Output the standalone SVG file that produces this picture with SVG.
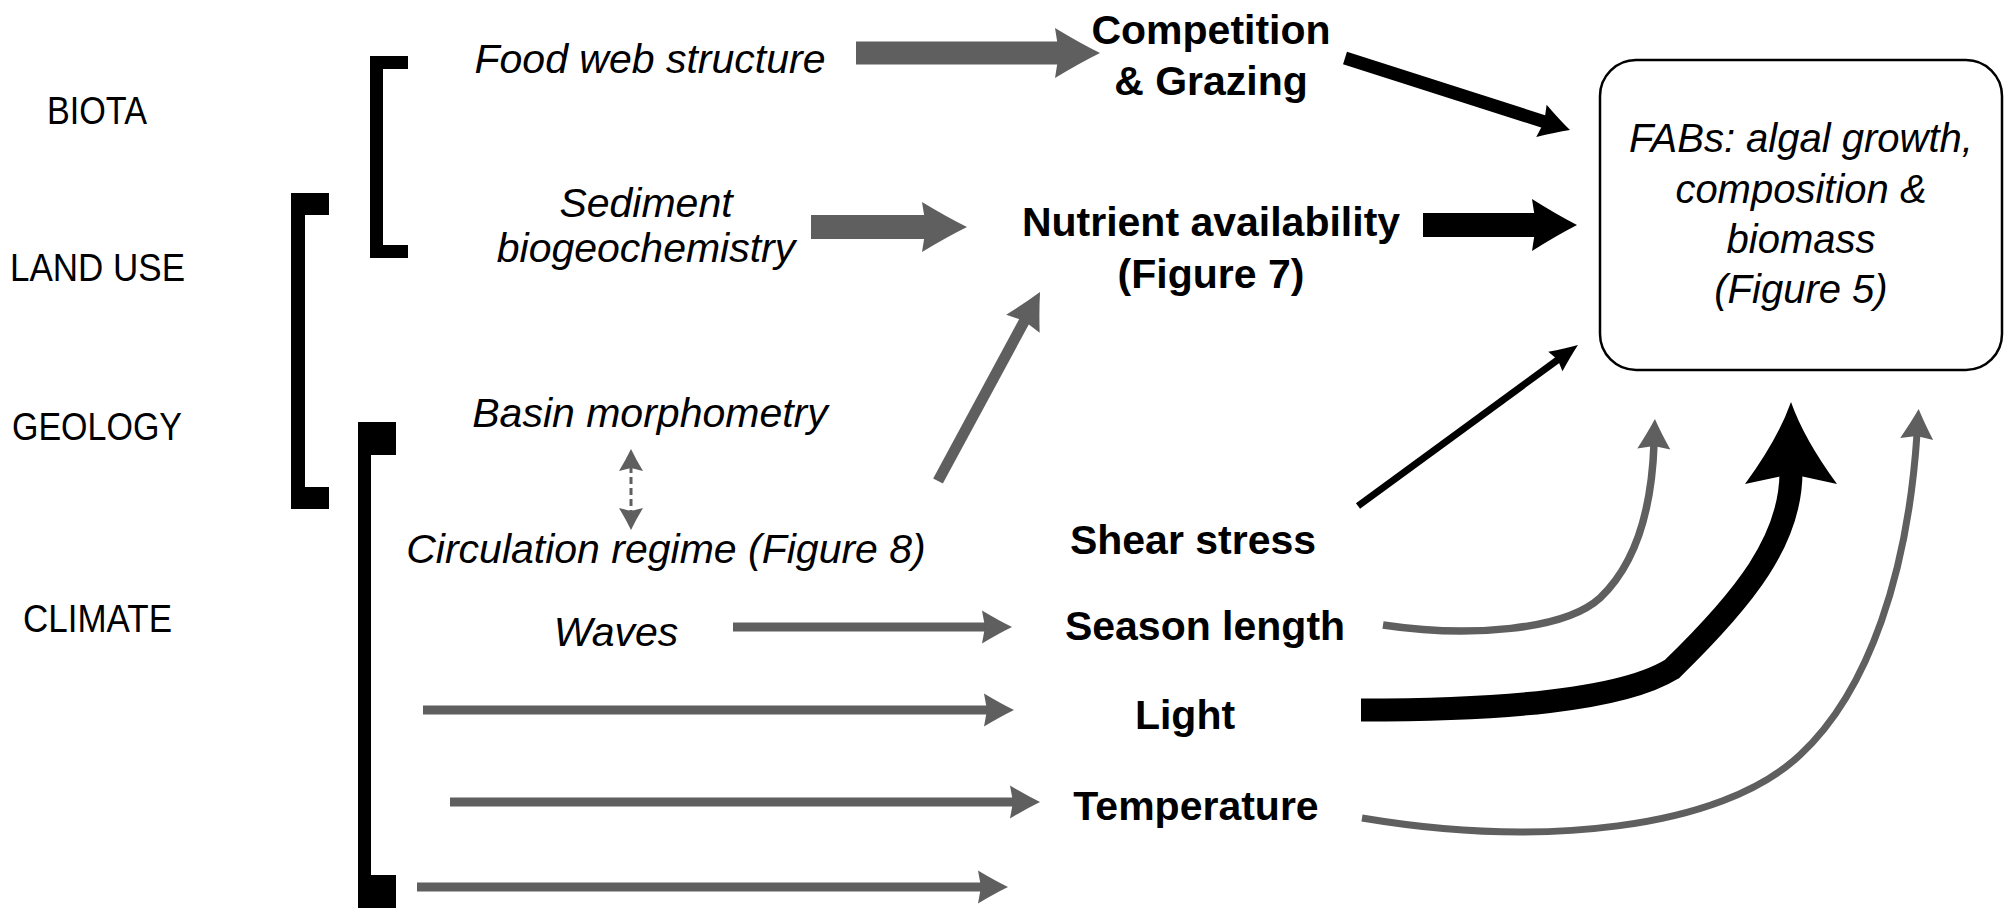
<svg xmlns="http://www.w3.org/2000/svg" width="2010" height="908" viewBox="0 0 2010 908">
<style>
.lab{font-family:"Liberation Sans",Arial,sans-serif;font-size:38px;fill:#000}
.it{font-family:"Liberation Sans",Arial,sans-serif;font-size:41px;font-style:italic;fill:#000;text-anchor:middle}
.bd{font-family:"Liberation Sans",Arial,sans-serif;font-size:41px;font-weight:bold;fill:#000;text-anchor:middle}
.bx{font-family:"Liberation Sans",Arial,sans-serif;font-size:40px;font-style:italic;fill:#000;text-anchor:middle}
.br{fill:#000}
.g{fill:none;stroke:#5f5f5f;stroke-linecap:butt}
.k{fill:none;stroke:#000;stroke-linecap:butt}
</style>
<defs>
<marker id="mBigG" markerUnits="userSpaceOnUse" orient="auto" refX="0" refY="0" markerWidth="100" markerHeight="100" viewBox="-50 -50 100 100" overflow="visible">
<path d="M39,0 Q18.75,-10 -6,-25 L-2,0 L-6,25 Q18.75,10 39,0Z" fill="#5f5f5f"/>
</marker>
<marker id="mBigK" markerUnits="userSpaceOnUse" orient="auto" refX="0" refY="0" markerWidth="100" markerHeight="100" viewBox="-50 -50 100 100" overflow="visible">
<path d="M39,0 Q18.75,-10.4 -6,-26 L-2,0 L-6,26 Q18.75,10.4 39,0Z" fill="#000"/>
</marker>
<marker id="mMedK" markerUnits="userSpaceOnUse" orient="auto" refX="0" refY="0" markerWidth="100" markerHeight="100" viewBox="-50 -50 100 100" overflow="visible">
<path d="M25,0 Q11.5,-6.8 -5,-17 L-2,0 L-5,17 Q11.5,6.8 25,0Z" fill="#000"/>
</marker>
<marker id="mSmG" markerUnits="userSpaceOnUse" orient="auto" refX="0" refY="0" markerWidth="100" markerHeight="100" viewBox="-50 -50 100 100" overflow="visible">
<path d="M25,0 Q11.5,-6.6 -5,-16.5 L-2,0 L-5,16.5 Q11.5,6.6 25,0Z" fill="#5f5f5f"/>
</marker>
<marker id="mDiagG" markerUnits="userSpaceOnUse" orient="auto" refX="0" refY="0" markerWidth="100" markerHeight="100" viewBox="-50 -50 100 100" overflow="visible">
<path d="M31,0 Q14.8,-7.6 -5,-19 L-2,0 L-5,19 Q14.8,7.6 31,0Z" fill="#5f5f5f"/>
</marker>
<marker id="mShearK" markerUnits="userSpaceOnUse" orient="auto" refX="0" refY="0" markerWidth="100" markerHeight="100" viewBox="-50 -50 100 100" overflow="visible">
<path d="M23,0 Q10.4,-4.8 -5,-12 L-2,0 L-5,12 Q10.4,4.8 23,0Z" fill="#000"/>
</marker>
<marker id="mLightK" markerUnits="userSpaceOnUse" orient="auto" refX="0" refY="0" markerWidth="200" markerHeight="200" viewBox="-100 -100 200 200" overflow="visible">
<path d="M70,0 Q33,-13 -12,-46 L-2,0 L-12,46 Q33,13 70,0Z" fill="#000"/>
</marker>
<marker id="mDash" markerUnits="userSpaceOnUse" orient="auto-start-reverse" refX="0" refY="0" markerWidth="60" markerHeight="60" viewBox="-30 -30 60 60" overflow="visible">
<path d="M17,0 Q7,-4.8 -5,-12 L-2,0 L-5,12 Q7,4.8 17,0Z" fill="#5f5f5f"/>
</marker>
</defs>

<g id="brackets">
<path class="br" d="M408,56 H370 V258 H408 V245 H383 V69 H408 Z"/>
<path class="br" d="M329,193 H291 V509 H329 V487 H305 V215 H329 Z"/>
<path class="br" d="M396,422 H358 V908 H396 V875 H371 V455 H396 Z"/>
</g>

<g id="categories">
<text id="biota" class="lab" x="47" y="124" textLength="100" lengthAdjust="spacingAndGlyphs">BIOTA</text>
<text id="landuse" class="lab" x="10" y="281" textLength="175" lengthAdjust="spacingAndGlyphs">LAND USE</text>
<text id="geology" class="lab" x="12" y="440" textLength="170" lengthAdjust="spacingAndGlyphs">GEOLOGY</text>
<text id="climate" class="lab" x="23" y="632" textLength="149" lengthAdjust="spacingAndGlyphs">CLIMATE</text>
</g>

<g id="drivers">
<text id="foodweb" class="it" x="650" y="73">Food web structure</text>
<g id="sediment"><text class="it" x="646" y="217">Sediment</text><text class="it" x="646" y="262">biogeochemistry</text></g>
<text id="basin" class="it" x="650" y="427">Basin morphometry</text>
<text id="circulation" class="it" x="666" y="563">Circulation regime (Figure 8)</text>
<text id="waves" class="it" x="616" y="646">Waves</text>
</g>

<g id="factors">
<g id="competition"><text class="bd" x="1211" y="44">Competition</text><text class="bd" x="1211" y="95">&amp; Grazing</text></g>
<g id="nutrient"><text class="bd" x="1211" y="236">Nutrient availability</text><text class="bd" x="1211" y="288">(Figure 7)</text></g>
<text id="shear" class="bd" x="1193" y="554">Shear stress</text>
<text id="season" class="bd" x="1205" y="640">Season length</text>
<text id="light" class="bd" x="1185" y="729">Light</text>
<text id="temperature" class="bd" x="1196" y="820">Temperature</text>
</g>

<g id="fabs">
<rect x="1600" y="60" width="402" height="310" rx="36" ry="36" fill="#fff" stroke="#000" stroke-width="2.5"/>
<text class="bx" x="1801" y="152">FABs: algal growth,</text>
<text class="bx" x="1801" y="203">composition &amp;</text>
<text class="bx" x="1801" y="253">biomass</text>
<text class="bx" x="1801" y="303">(Figure 5)</text>
</g>

<g id="connectors">
<path class="g" d="M856,53 H1061" stroke-width="23" marker-end="url(#mBigG)"/>
<path class="g" d="M811,227 H928" stroke-width="24" marker-end="url(#mBigG)"/>
<path class="k" d="M1423,225 H1538" stroke-width="24" marker-end="url(#mBigK)"/>
<path class="k" d="M1345,58 L1546.2,122.4" stroke-width="13" marker-end="url(#mMedK)"/>
<path class="k" d="M1358,506 L1559.4,358.6" stroke-width="7" marker-end="url(#mShearK)"/>
<path class="g" d="M938,481 L1025.3,319.3" stroke-width="11" marker-end="url(#mDiagG)"/>
<path class="g" d="M631,466 V513" stroke-width="3" stroke-dasharray="7 4" marker-start="url(#mDash)" marker-end="url(#mDash)"/>
<path class="g" d="M733,627 H987" stroke-width="9" marker-end="url(#mSmG)"/>
<path class="g" d="M423,710 H989" stroke-width="9" marker-end="url(#mSmG)"/>
<path class="g" d="M450,802 H1015" stroke-width="9" marker-end="url(#mSmG)"/>
<path class="g" d="M417,887 H983" stroke-width="9" marker-end="url(#mSmG)"/>
<path class="g" d="M1383,625 C1470,638 1565,630 1600,598 C1640,560 1652,500 1654,444" stroke-width="7.5" marker-end="url(#mSmG)"/>
<path class="k" d="M1361,710 C1500,710 1620,701 1672,669 C1745,598 1791,540 1791,472" stroke-width="23" marker-end="url(#mLightK)"/>
<path class="g" d="M1362,818 C1540,848 1720,830 1800,755 C1870,690 1908,570 1917,434" stroke-width="7" marker-end="url(#mSmG)"/>
</g>
</svg>
